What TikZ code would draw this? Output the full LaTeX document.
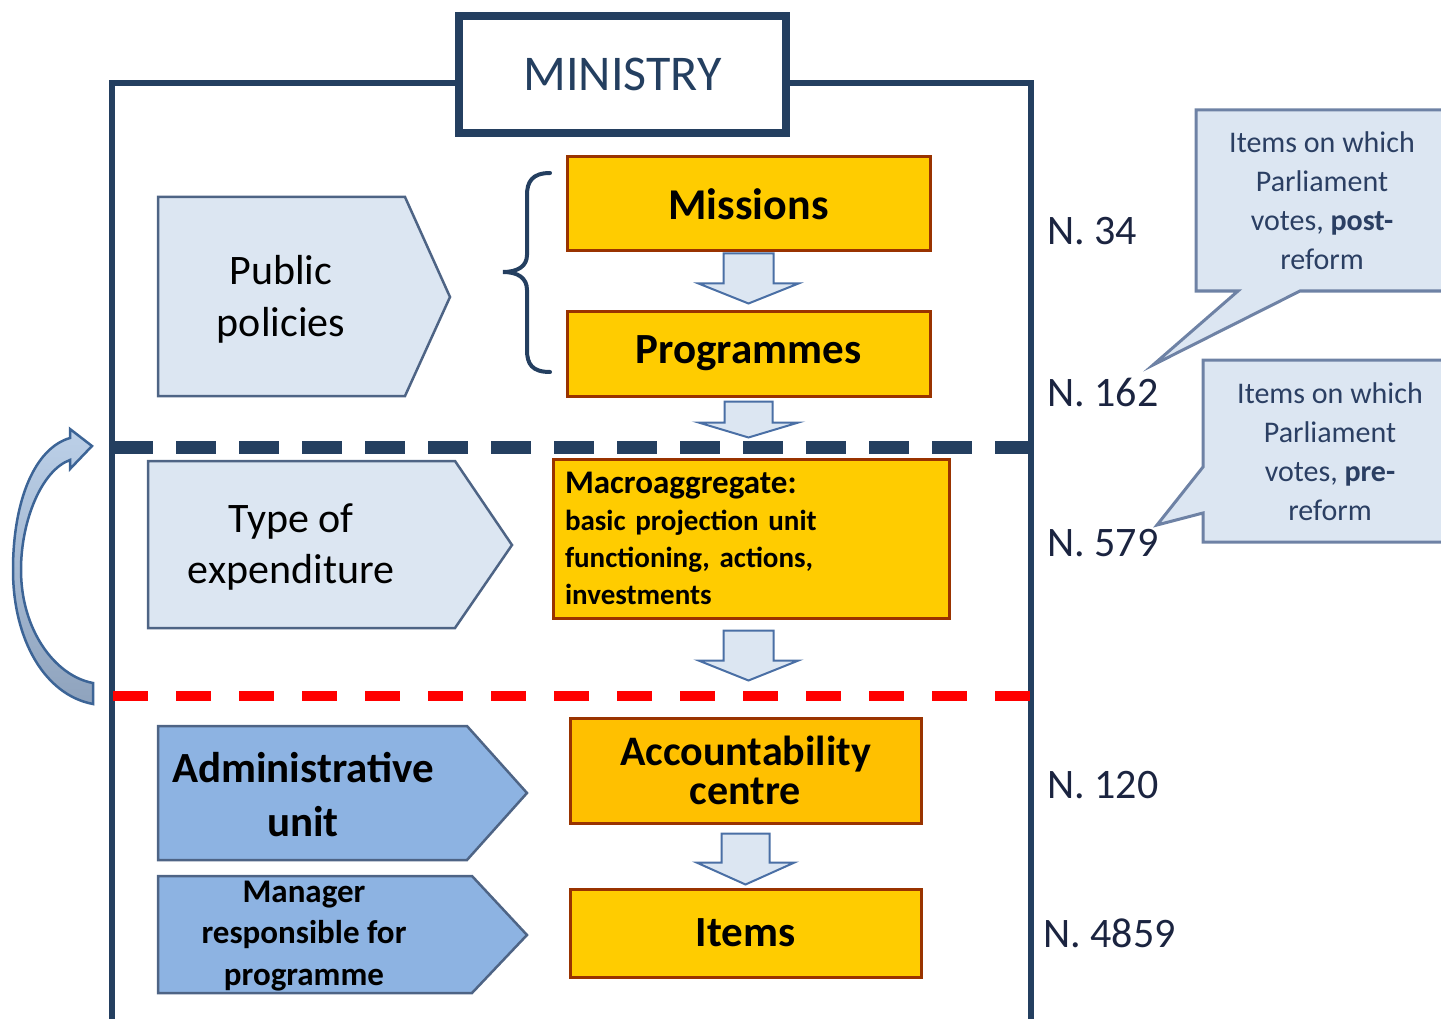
\documentclass[tikz,border=0pt]{standalone}
\usepackage{fontspec}
\setmainfont{Carlito}
\usetikzlibrary{calc}

\definecolor{navy}{HTML}{243F60}
\definecolor{gold}{HTML}{FFCC00}
\definecolor{goldb}{HTML}{FFC000}
\definecolor{rust}{HTML}{993300}
\definecolor{paleblue}{HTML}{DCE6F2}
\definecolor{midblue}{HTML}{8DB3E2}
\definecolor{arrowedge}{HTML}{4A6FA5}
\definecolor{pentedge}{HTML}{4E6485}
\definecolor{calloutedge}{HTML}{6E82A5}
\definecolor{calltext}{HTML}{2B3F63}
\definecolor{numtext}{HTML}{1B2440}
\definecolor{curvetop}{HTML}{BCD0E8}
\definecolor{curvebot}{HTML}{8FA3BD}
\definecolor{curveedge}{HTML}{3C6496}

\newcommand\fsz[2]{\fontsize{#1}{#2}\selectfont}

\tikzset{
  frame/.style={draw=navy, line width=6pt},
  ministrybox/.style={draw=navy, fill=white, line width=8pt, text=navy,
    minimum width=327pt, minimum height=117pt, font=\fsz{50}{56}},
  goldbox/.style={draw=rust, fill=gold, line width=3pt, text=black,
    align=center, inner sep=0pt},
  pentpale/.style={fill=paleblue, draw=pentedge, line width=2.5pt, line join=miter},
  pentmid/.style={fill=midblue, draw=pentedge, line width=2.5pt, line join=miter},
  penttext/.style={align=center, text=black, inner sep=0pt},
  blockarr/.style={fill=paleblue, draw=arrowedge, line width=2pt, line join=miter},
  callout/.style={fill=paleblue, draw=calloutedge, line width=3pt, line join=miter},
  calltxt/.style={align=center, text=calltext, font=\fsz{30}{39}, inner sep=0pt},
  count/.style={anchor=west, text=numtext, font=\fsz{42}{50}, inner sep=0pt},
  brace/.style={draw=navy, line width=4pt, line cap=round},
}

\begin{document}
\begin{tikzpicture}[x=1pt, y=-1pt]
\useasboundingbox (0,0) rectangle (1441,1019);
\clip (0,0) rectangle (1441,1019);

% outer ministry frame, open at the bottom
\draw[frame] (112,1019) -- (112,83) -- (1031,83) -- (1031,1019);

% level separators
\draw[navy, line width=13pt, dash pattern=on 40pt off 23pt] (113,447) -- (1031,447);
\draw[red, line width=10pt, dash pattern=on 35pt off 28pt] (113,696) -- (1031,696);

% title box
\node[ministrybox] (min) at (622.5,74.5) {MINISTRY};

% left-hand category arrows
\path[pentpale] (158,197) -- (405,197) -- (450,297) -- (405,396) -- (158,396) -- cycle;
\node[penttext, font=\fsz{42}{52}] (pp) at (281,299) {Public\\policies};

\path[pentpale] (148,461) -- (455,461) -- (512,545) -- (455,628) -- (148,628) -- cycle;
\node[penttext, font=\fsz{42}{51}] (te) at (291,547) {Type of\\expenditure};

\path[pentmid] (158,726) -- (467,726) -- (527,793) -- (467,860) -- (158,860) -- cycle;
\node[penttext, font=\fsz{43}{54}\bfseries] (au) at (303,795) {Administrative\\unit};

\path[pentmid] (158,876) -- (472,876) -- (527,935) -- (472,993) -- (158,993) -- cycle;
\node[penttext, font=\fsz{33}{41.5}\bfseries] (mr) at (304,936) {Manager\\responsible for\\programme};

% brace grouping missions and programmes
\draw[brace] (550,173) .. controls (532,173) and (527,182) .. (527,195)
  -- (527,255) .. controls (527,266) and (518,272) .. (503,272)
  .. controls (518,272) and (527,278) .. (527,290)
  -- (527,350) .. controls (527,364) and (532,372) .. (550,372);

% budget classification boxes
\node[goldbox, minimum width=363pt, minimum height=94pt, font=\fsz{44}{50}\bfseries]
  (mis) at (748.5,204) {Missions};
\node[goldbox, minimum width=363pt, minimum height=85pt, font=\fsz{43}{50}\bfseries]
  (prog) at (748.5,353.5) {Programmes};
\node[goldbox, text width=372pt, minimum height=159pt, inner xsep=12pt, align=left,
  font=\fsz{29}{37}\bfseries]
  (mac) at (751,538.5) {{\fsz{33}{37}\bfseries Macroaggregate:}\\
  basic projection unit\\functioning, actions,\\investments};
\node[goldbox, fill=goldb, minimum width=351pt, minimum height=105pt, font=\fsz{42}{39}\bfseries]
  (acc) at (745.5,770.5) {Accountability\\centre};
\node[goldbox, minimum width=351pt, minimum height=88pt, font=\fsz{43}{50}\bfseries]
  (itm) at (745.5,933) {Items};

% downward block arrows
\draw[blockarr] ($(mis.south)+(-25,1)$) -- ++(50,0) -- ++(0,30) -- ++(25,0)
  -- ++(-50,20) -- ++(-50,-20) -- ++(25,0) -- cycle;
\draw[blockarr] ($(prog.south)+(-24,4)$) -- ++(48,0) -- ++(0,21) -- ++(26,0)
  -- ++(-50,15) -- ++(-50,-15) -- ++(26,0) -- cycle;
\draw[blockarr] ($(mis.south |- mac.south)+(-25,11)$) -- ++(50,0) -- ++(0,30) -- ++(25,0)
  -- ++(-50,20) -- ++(-50,-20) -- ++(25,0) -- cycle;
\draw[blockarr] ($(acc.south)+(-24,9)$) -- ++(48,0) -- ++(0,29) -- ++(25,0)
  -- ++(-49,22) -- ++(-49,-22) -- ++(25,0) -- cycle;

% curved arrow on the left margin
\path[draw=curveedge, line width=2.5pt, top color=curvetop, bottom color=curvebot, line join=miter]
  (93,704) .. controls (45,695) and (13,640) .. (13,570)
  .. controls (13,500) and (35,448) .. (70,438)
  -- (70,429) -- (92,446) -- (70,469) -- (70,460)
  .. controls (42,470) and (21,520) .. (21,570)
  .. controls (21,630) and (55,676) .. (93,683) -- cycle;

% counts per level
\node[count] (n34) at (1047,231) {N. 34};
\node[count] (n162) at (1047,392) {N. 162};
\node[count] (n579) at (1047,543) {N. 579};
\node[count] (n120) at (1047,785) {N. 120};
\node[count] (n4859) at (1043,933) {N. 4859};

% speech callouts
\coordinate (tip1) at (1153,365);
\coordinate (tip2) at (1157,525);
\path[callout] (1196,110) -- (1450,110) -- (1450,291) -- (1300,291) -- (tip1)
  -- (1238,291) -- (1196,291) -- cycle;
\node[calltxt] (c1) at (1322,201) {Items on which\\Parliament\\votes, \textbf{post-}\\reform};

\path[callout] (1203,360) -- (1460,360) -- (1460,542) -- (1203,542) -- (1203,513)
  -- (tip2) -- (1203,467) -- cycle;
\node[calltxt] (c2) at (1330,452) {Items on which\\Parliament\\votes, \textbf{pre-}\\reform};
\end{tikzpicture}
\end{document}
